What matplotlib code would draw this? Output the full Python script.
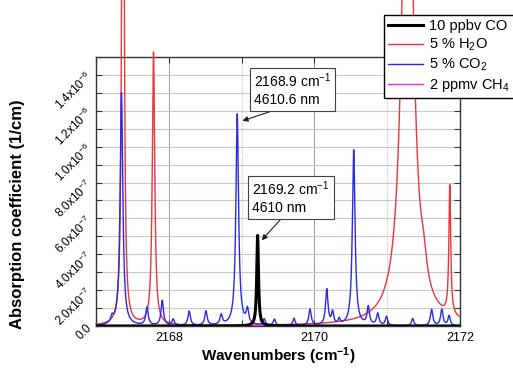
import matplotlib
matplotlib.use("Agg")
import matplotlib.pyplot as plt
import numpy as np
from matplotlib.ticker import MultipleLocator, FuncFormatter

plt.rcParams['font.family'] = ['Liberation Sans', 'DejaVu Sans']
plt.rcParams['mathtext.fontset'] = 'custom'
plt.rcParams['mathtext.rm'] = 'Liberation Sans'
plt.rcParams['mathtext.it'] = 'Liberation Sans:italic'
plt.rcParams['mathtext.bf'] = 'Liberation Sans:bold'
plt.rcParams['mathtext.default'] = 'regular'

# line lists: centre (cm-1), peak height (1/cm), half width (cm-1)
co_pos = [2169.22]
co_height = [5.05e-7]
co_width = [0.014]

h2o_pos = [2167.37, 2167.79, 2171.28, 2171.50, 2171.86]
h2o_height = [6.0e-6, 1.52e-6, 3.5e-6, 0.12e-6, 0.72e-6]
h2o_width = [0.013, 0.02, 0.08, 0.05, 0.015]

co2_pos = [2167.22, 2167.35, 2167.70, 2167.91, 2168.06, 2168.28, 2168.51, 2168.72,
           2168.94, 2169.08, 2169.31, 2169.45, 2169.72, 2169.94, 2170.17, 2170.25,
           2170.34, 2170.54, 2170.74, 2170.87, 2170.99, 2171.35, 2171.61, 2171.75, 2171.85]
co2_height = [0.35e-7, 13.0e-7, 1.0e-7, 1.4e-7, 0.35e-7, 0.8e-7, 0.8e-7, 0.55e-7,
              11.8e-7, 0.8e-7, 0.35e-7, 0.35e-7, 0.4e-7, 0.9e-7, 2.0e-7, 0.7e-7,
              0.3e-7, 9.8e-7, 1.0e-7, 0.65e-7, 0.5e-7, 0.4e-7, 0.9e-7, 0.9e-7, 0.55e-7]
co2_width = [0.02, 0.022, 0.02, 0.02, 0.018, 0.02, 0.02, 0.02,
             0.022, 0.02, 0.018, 0.018, 0.018, 0.02, 0.02, 0.018,
             0.018, 0.022, 0.02, 0.02, 0.018, 0.018, 0.02, 0.02, 0.018]

ch4_pos = [2167.60, 2169.28, 2170.60]
ch4_height = [0.4e-8, 0.6e-8, 0.4e-8]
ch4_width = [0.015, 0.015, 0.015]

labels = ['10 ppbv CO', '5 % H$_2$O', '5 % CO$_2$', '2 ppmv CH$_4$']


def spectrum(x, pos, height, width):
    y = np.zeros_like(x)
    for p, h, w in zip(pos, height, width):
        y += h * w**2 / ((x - p)**2 + w**2)
    return y


nu = np.linspace(2167, 2172, 6001)

fig = plt.figure(figsize=(5.13, 3.68), dpi=100)
ax = fig.add_axes([96/513, 1-326/368, (460-96)/513, (326-57)/368])

l_h2o, = ax.plot(nu, spectrum(nu, h2o_pos, h2o_height, h2o_width), color='#e8363a', lw=1.0, clip_on=False, zorder=3)
l_co2, = ax.plot(nu, spectrum(nu, co2_pos, co2_height, co2_width), color='#2a2ae6', lw=1.0, zorder=4)
l_ch4, = ax.plot(nu, spectrum(nu, ch4_pos, ch4_height, ch4_width), color='#e030e0', lw=1.0, zorder=5)
l_co, = ax.plot(nu, spectrum(nu, co_pos, co_height, co_width), color='black', lw=2.2, zorder=6)

ax.set_xlim(2167, 2172)
ax.set_ylim(0, 1.5e-6)
ax.xaxis.set_major_locator(MultipleLocator(2))
ax.xaxis.set_minor_locator(MultipleLocator(1))
ax.yaxis.set_major_locator(MultipleLocator(2e-7))
ax.yaxis.set_minor_locator(MultipleLocator(1e-7))


def yfmt(v, pos):
    if abs(v) < 1e-12:
        return '0.0'
    e = int(np.floor(np.log10(abs(v)) + 1e-9))
    return '%.1fx10$^{%d}$' % (v / 10**e, e)


ax.yaxis.set_major_formatter(FuncFormatter(yfmt))
ax.tick_params(which='both', direction='in', top=True, right=True, length=4, width=0.8, color='#333333')
ax.tick_params(axis='x', labelsize=9, pad=4)
ax.tick_params(axis='y', labelsize=8.5, pad=4)
for t in ax.get_yticklabels():
    t.set_rotation(45)
    t.set_rotation_mode('anchor')
    t.set_ha('right')
    t.set_va('center')

ax.grid(which='both', axis='y', color='#c8c8c8', lw=0.8)
ax.grid(which='major', axis='x', color='#a0a0a0', lw=0.8)
ax.grid(which='minor', axis='x', color='#c8c8c8', lw=0.8, ls=(0, (1, 1)))
ax.set_axisbelow(True)
for s in ax.spines.values():
    s.set_color('#333333')
    s.set_linewidth(1.0)

box = dict(boxstyle='square,pad=0.3', fc='white', ec='#404040', lw=0.8)
arrow = dict(arrowstyle='-|>', color='#202020', lw=0.8, mutation_scale=8, shrinkA=0, shrinkB=0)
ax.annotate('2168.9 cm$^{-1}$\n4610.6 nm', xy=(2169.01, 1.144e-6), xytext=(2169.70, 1.32e-6),
            ha='center', va='center', multialignment='left', fontsize=10, bbox=box,
            arrowprops=dict(arrow, relpos=(0.4, 0)), zorder=8)
ax.annotate('2169.2 cm$^{-1}$\n4610 nm', xy=(2169.276, 0.478e-6), xytext=(2169.68, 0.718e-6),
            ha='center', va='center', multialignment='left', fontsize=10, bbox=box,
            arrowprops=dict(arrow, relpos=(0.42, 0)), zorder=8)

fig.text(278/513, 1-356/368, 'Wavenumbers (cm$^{\\mathbf{-1}}$)', ha='center', va='center',
         fontsize=11, fontweight='bold')
fig.text(17.5/513, 1-214/368, 'Absorption coefficient (1/cm)', ha='center', va='center',
         rotation=90, fontsize=12, fontweight='bold')

leg = fig.legend([l_co, l_h2o, l_co2, l_ch4], labels, loc='upper left',
                 bbox_to_anchor=(384/513, 1-15/368), fancybox=False, framealpha=1,
                 edgecolor='black', fontsize=10.5, handlelength=2.4, borderpad=0.3,
                 labelspacing=0.25, handletextpad=0.4, borderaxespad=0)
leg.get_frame().set_linewidth(1.0)

fig.savefig('out.png', dpi=100)
